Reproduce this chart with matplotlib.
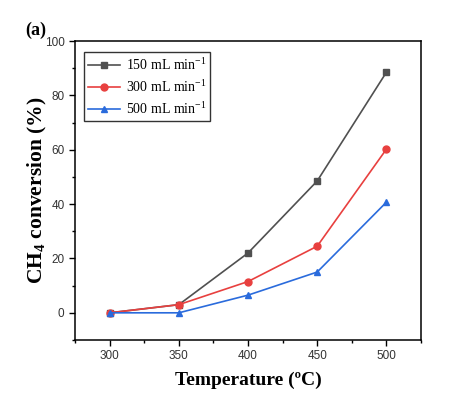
from matplotlib import pyplot as plt
from matplotlib.ticker import MultipleLocator

temps = [300, 350, 400, 450, 500]
conv_150 = [0, 3, 22, 48.5, 88.5]
conv_300 = [0, 3, 11.5, 24.5, 60.2]
conv_500 = [0, 0, 6.5, 15, 40.7]

serif = 'Liberation Serif'
sans = 'Liberation Sans'

plt.rcParams['mathtext.fontset'] = 'custom'
plt.rcParams['mathtext.rm'] = serif
plt.rcParams['mathtext.bf'] = serif + ':bold'

fig = plt.figure(figsize=(4.66, 4.01), dpi=100)
ax = fig.add_axes([75/466, 61/401, 346/466, 299/401])

ax.plot(temps, conv_150, color='#505050', marker='s', markersize=5, lw=1.2,
        label=r'150 mL min$^{\mathregular{-1}}$')
ax.plot(temps, conv_300, color='#e8403f', marker='o', markersize=5, lw=1.2,
        label=r'300 mL min$^{\mathregular{-1}}$')
ax.plot(temps, conv_500, color='#2a6bdc', marker='^', markersize=5, lw=1.2,
        label=r'500 mL min$^{\mathregular{-1}}$')

ax.set_xlim(275, 525)
ax.set_ylim(-10, 100)
ax.xaxis.set_major_locator(MultipleLocator(50))
ax.xaxis.set_minor_locator(MultipleLocator(25))
ax.yaxis.set_major_locator(MultipleLocator(20))
ax.yaxis.set_minor_locator(MultipleLocator(10))
ax.tick_params(which='both', direction='out', top=False, right=False)
ax.tick_params(which='major', length=4, width=1, labelsize=8.5, labelcolor='#333333')
ax.tick_params(which='minor', length=2.5, width=1)
for lab in ax.get_xticklabels() + ax.get_yticklabels():
    lab.set_fontfamily(sans)
for sp in ax.spines.values():
    sp.set_linewidth(1.1)

ax.set_xlabel('Temperature (ºC)', fontfamily=serif, fontweight='bold', fontsize=14,
              labelpad=7)
ax.set_ylabel(r'CH$_{\mathbf{4}}$ conversion (%)', fontfamily=serif,
              fontweight='bold', fontsize=15.5, labelpad=-3)

leg = ax.legend(loc='upper left', bbox_to_anchor=(0.026, 0.963), borderaxespad=0,
                prop={'family': serif, 'size': 10},
                fancybox=False, edgecolor='black', handlelength=2.3,
                handletextpad=0.4, borderpad=0.3, labelspacing=0.38)
leg.get_frame().set_linewidth(1)

fig.text(25/466, 1 - 30/401, '(a)', fontfamily=serif, fontweight='bold', fontsize=13,
         va='center')

fig.savefig('out.png', dpi=100)
